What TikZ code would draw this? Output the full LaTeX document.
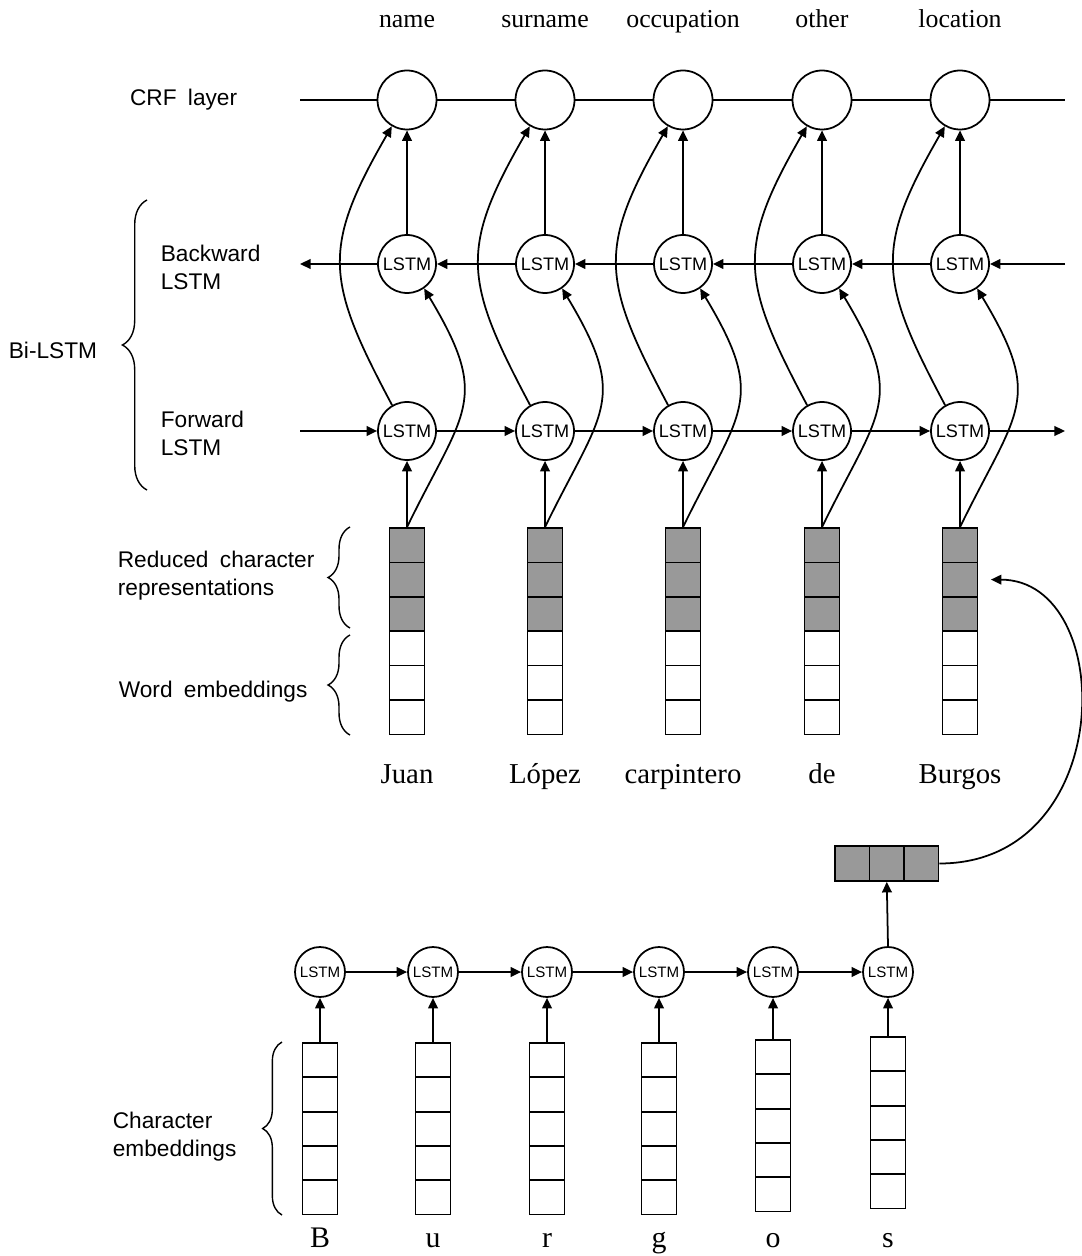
\documentclass[tikz,border=0pt]{standalone}
\usepackage{fontspec}
\setmainfont{Liberation Serif}
\setsansfont{Liberation Sans}
\usetikzlibrary{arrows.meta,decorations.pathreplacing,positioning}
\definecolor{cellgray}{RGB}{153,153,153}
\newcommand{\lblfont}{\sffamily\fontsize{12.9}{15.9}\selectfont\spaceskip 0.5em\relax}

\begin{document}
\begin{tikzpicture}[x=0.02cm, y=0.02cm, line width=1pt,
    >={Triangle[length=6pt,width=5.5pt]},
    crf/.style={circle, draw, minimum size=1.18cm, inner sep=0pt},
    lstm/.style={circle, draw, minimum size=1.16cm, inner sep=0pt, font=\sffamily\fontsize{10.3}{11}\selectfont},
    clstm/.style={circle, draw, minimum size=1.0cm, inner sep=0pt, font=\sffamily\fontsize{8.6}{9}\selectfont},
    cell/.style={draw, minimum width=0.7cm, minimum height=0.688cm, inner sep=0pt},
    dark/.style={cell, fill=cellgray},
    lbl/.style={font=\lblfont, align=left, inner sep=0pt},
    tag/.style={font=\fontsize{14.7}{16}\selectfont, anchor=base, inner sep=0pt},
    word/.style={font=\fontsize{16.4}{18}\selectfont, anchor=base, inner sep=0pt},
    letter/.style={font=\fontsize{17}{19}\selectfont, anchor=base, inner sep=0pt},
    lbrace/.style={decorate, line width=0.8pt, decoration={brace, amplitude=#1}}]

    \useasboundingbox (0,0) rectangle (1081,-1256);

    % word columns: tag, CRF, backward, forward, vector, word
    \foreach \i/\x/\tg/\wrd in {1/407/name/Juan, 2/545/surname/López, 3/683/occupation/carpintero, 4/822/other/de, 5/960/location/Burgos} {
        \node[tag] (tag\i) at (\x,-28) {\tg};
        \node[crf] (crf\i) at (\x,-100) {};
        \node[lstm] (bw\i) at (\x,-264) {LSTM};
        \node[lstm] (fw\i) at (\x,-431) {LSTM};
        \foreach \j in {1,2,3} \node[dark] (w\i-\j) at (\x,{-510.8-34.4*\j}) {};
        \foreach \j in {4,5,6} \node[cell] (w\i-\j) at (\x,{-510.8-34.4*\j}) {};
        \node[word] (wd\i) at (\x,-783) {\wrd};

        \draw[->] (w\i-1.north) -- (fw\i.south);
        \draw[->] (bw\i.north) -- (crf\i.south);
        \draw[->] (fw\i.120) to[out=118, in=-120, looseness=1.3] (crf\i.-120);
        \draw[->] (w\i-1.north) to[out=64, in=-59, looseness=1.4] (bw\i.-55);
    }

    % open ends of the rows
    \coordinate (crfL) at (300,-100);
    \coordinate (crfR) at (1065,-100);
    \coordinate (bwL) at (300,-264);
    \coordinate (bwR) at (1065,-264);
    \coordinate (fwL) at (300,-431);
    \coordinate (fwR) at (1065,-431);

    \draw (crfL) -- (crf1) -- (crf2) -- (crf3) -- (crf4) -- (crf5) -- (crfR);
    \draw[->] (bwR) -- (bw5);
    \draw[->] (bw1) -- (bwL);
    \draw[->] (fwL) -- (fw1);
    \draw[->] (fw5) -- (fwR);
    \foreach \i/\j in {1/2, 2/3, 3/4, 4/5} {
        \draw[->] (bw\j) -- (bw\i);
        \draw[->] (fw\i) -- (fw\j);
    }

    % character level
    \foreach \i/\x/\yy/\ltr in {1/320/1043/B, 2/433/1043/u, 3/547/1043/r, 4/659/1043/g, 5/773/1040/o, 6/888/1037/s} {
        \node[clstm] (cl\i) at (\x,-972) {LSTM};
        \foreach \j in {1,...,5} \node[cell] (c\i-\j) at (\x,{-\yy+17.15-34.3*\j}) {};
        \node[letter] (ch\i) at (\x,-1247) {\ltr};
        \draw[->] (c\i-1.north) -- (cl\i.south);
    }
    \foreach \i/\j in {1/2, 2/3, 3/4, 4/5, 5/6}
        \draw[->] (cl\i) -- (cl\j);

    % reduced representation of Burgos
    \foreach \j in {1,2,3}
        \node[dark, minimum width=0.69cm, minimum height=0.7cm] (r\j) at ({817.75+34.5*\j},-863.5) {};
    \draw[->] (cl6.north) -- (r2.south);
    \coordinate (entry) at ([xshift=0.25cm]w5-2.east);
    \draw[->] (r3.east) .. controls (1118,-863.5) and (1118,-580) .. (entry);

    % labels and braces
    \node[lbl, anchor=east] (crflbl) at (238,-100) {CRF layer};
    \node[lbl, anchor=west] (bwlbl) at (160,-267) {Backward\\LSTM};
    \node[lbl, anchor=west] (fwlbl) at (160,-433) {Forward\\LSTM};
    \node[lbl, anchor=west] (bilbl) at (8,-350) {Bi-LSTM};
    \node[lbl, anchor=west] (redlbl) at (117,-576) {Reduced character\\representations};
    \node[lbl, anchor=west] (emblbl) at (118,-692) {Word embeddings};
    \node[lbl, anchor=west] (chlbl) at (112,-1137) {Character\\embeddings};

    \draw[lbrace=14pt] (147,-490) -- (147,-200);
    \draw[lbrace=12.5pt] (350,-628) -- (350,-527);
    \draw[lbrace=12.5pt] (350,-735) -- (350,-635);
    \draw[lbrace=11pt] (282,-1215) -- (282,-1042);
\end{tikzpicture}
\end{document}
